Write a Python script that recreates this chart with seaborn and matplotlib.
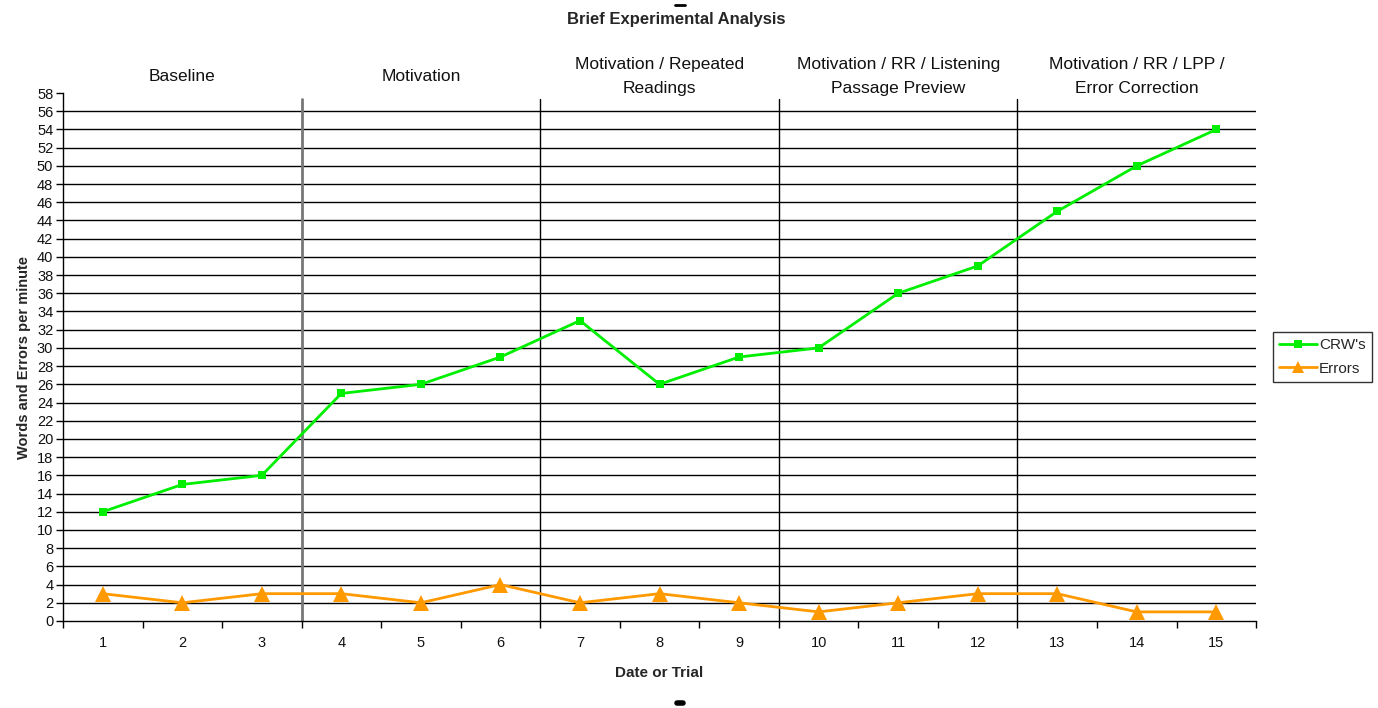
import matplotlib
matplotlib.use("Agg")
import matplotlib.pyplot as plt
import matplotlib.lines as mlines
import numpy as np
import pandas as pd
import seaborn as sns

# Session data
trials = list(range(1, 16))
crws = [12, 15, 16, 25, 26, 29, 33, 26, 29, 30, 36, 39, 45, 50, 54]
errors = [3, 2, 3, 3, 2, 4, 2, 3, 2, 1, 2, 3, 3, 1, 1]

# Phases: label and (first trial, last trial)
phase_labels = ["Baseline", "Motivation", "Motivation / Repeated\nReadings",
                "Motivation / RR / Listening\nPassage Preview",
                "Motivation / RR / LPP /\nError Correction"]
phase_ranges = [(1, 3), (4, 6), (7, 9), (10, 12), (13, 15)]

sns.set_theme(style="white")
plt.rcParams["font.family"] = ["Liberation Sans", "DejaVu Sans"]

df = pd.DataFrame({"Trial": trials, "CRW's": crws, "Errors": errors})

fig = plt.figure(figsize=(13.78, 7.08), dpi=100)
ax = fig.add_axes([0.0457, 0.1229, 0.8658, 0.7457])

# Horizontal gridlines every 2
yticks = np.arange(0, 59, 2)
for yv in yticks[1:-1]:
    ax.axhline(yv, color="black", lw=1.0, zorder=1)

sns.lineplot(data=df, x="Trial", y="CRW's", ax=ax, color="#00EE00", lw=2.0,
             marker="s", markersize=6, markeredgewidth=0, zorder=5)
sns.lineplot(data=df, x="Trial", y="Errors", ax=ax, color="#FF9900", lw=2.0,
             marker="^", markersize=11, markeredgewidth=0, zorder=5)

# Phase change lines and labels
for i, (lo, hi) in enumerate(phase_ranges):
    if i > 0:
        ax.plot([lo - 0.5, lo - 0.5], [0, 57.3],
                color="#777777" if i == 1 else "black",
                lw=2.0 if i == 1 else 1.0, zorder=2)
    ax.text((lo + hi) / 2, 59.8, phase_labels[i], ha="center", va="center",
            fontsize=12.5, color="#111111", linespacing=1.7)

ax.set_xlim(0.5, 15.5)
ax.set_ylim(0, 58)
ax.set_yticks(yticks)
ax.set_yticklabels([str(v) for v in yticks], fontsize=10.5)
ax.set_xticks(trials)
ax.set_xticklabels([str(t) for t in trials], fontsize=10.5)
ax.set_xticks(np.arange(0.5, 15.6, 1), minor=True)
ax.tick_params(axis="x", which="major", length=0, pad=11, colors="#111111")
ax.tick_params(axis="x", which="minor", length=5, width=1, direction="out",
               color="black", bottom=True)
ax.tick_params(axis="y", length=5, width=1, direction="out", color="black",
               left=True, pad=2, colors="#111111")

for s in ["top", "right"]:
    ax.spines[s].set_visible(False)
for s in ["left", "bottom"]:
    ax.spines[s].set_color("black")
    ax.spines[s].set_linewidth(1.0)

ax.set_xlabel("Date or Trial", fontsize=11, fontweight="bold", labelpad=11)
ax.set_ylabel("Words and Errors per minute", fontsize=10.5, fontweight="bold",
              labelpad=4)

fig.text(0.4906, 0.9725, "Brief Experimental Analysis", ha="center",
         va="center", fontsize=12, fontweight="bold")

# Small marks above the title and below the axis label
fig.add_artist(mlines.Line2D([0.490, 0.497], [0.993, 0.993], color="black",
                             lw=2, transform=fig.transFigure))
fig.add_artist(mlines.Line2D([0.491, 0.496], [0.007, 0.007], color="black",
                             lw=4, transform=fig.transFigure))

handles = [
    mlines.Line2D([], [], color="#00EE00", lw=2.0, marker="s", markersize=6,
                  markeredgewidth=0),
    mlines.Line2D([], [], color="#FF9900", lw=2.0, marker="^", markersize=8,
                  markeredgewidth=0),
]
leg = ax.legend(handles, ["CRW's", "Errors"], loc="center left",
                bbox_to_anchor=(1.0143, 0.5), fontsize=11, frameon=True,
                fancybox=False, handlelength=2.5, handletextpad=0.1,
                borderpad=0.4, labelspacing=0.6, borderaxespad=0)
leg.get_frame().set_edgecolor("black")
leg.get_frame().set_linewidth(1.0)

fig.savefig("out.png", dpi=100, facecolor="white")
